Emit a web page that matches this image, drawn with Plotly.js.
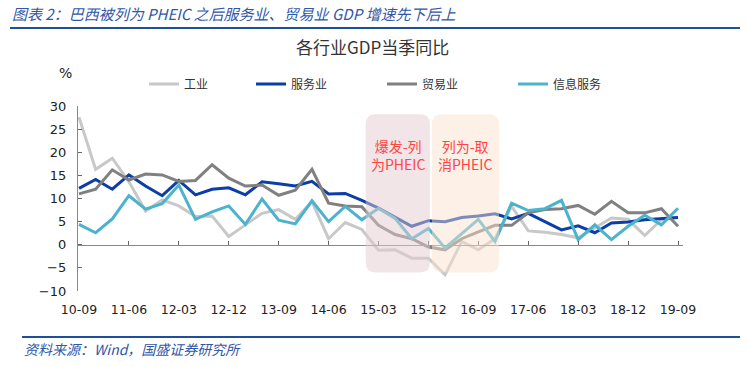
<!DOCTYPE html>
<html>
<head>
<meta charset="utf-8">
<script src="https://cdn.plot.ly/plotly-3.0.1.min.js"></script>
<style>html,body{margin:0;padding:0;background:#fff;}#chart{width:747px;height:367px;}</style>
</head>
<body>
<div id="chart"></div>
<script>
const categories = ["10-09","10-12","11-03","11-06","11-09","11-12","12-03","12-06","12-09","12-12","13-03","13-06","13-09","13-12","14-03","14-06","14-09","14-12","15-03","15-06","15-09","15-12","16-03","16-06","16-09","16-12","17-03","17-06","17-09","17-12","18-03","18-06","18-09","18-12","19-03","19-06","19-09"];
const tickLabels = ["10-09","11-06","12-03","12-12","13-09","14-06","15-03","15-12","16-09","17-06","18-03","18-12","19-09"];
const seriesNames = ["工业","服务业","贸易业","信息服务"];
const industry = [27.6,16.3,18.7,13.6,7.3,9.7,8.4,6.1,6.2,1.8,4.3,6.8,7.6,5.5,9.3,1.3,4.8,3.3,-1.2,-1.1,-2.9,-2.9,-6.5,0.7,-1.1,1.3,8.3,3.0,2.7,2.2,1.5,3.6,5.8,5.5,2.0,5.4,6.0];
const services = [12.2,14.1,12.0,15.1,12.7,10.6,13.9,10.8,12.0,12.3,10.8,13.6,13.2,12.7,13.7,11.0,11.1,9.6,7.9,6.0,4.0,5.2,5.0,5.9,6.2,6.7,5.6,6.8,5.0,3.2,4.1,2.6,4.7,4.9,5.4,5.7,5.9];
const trade = [11.0,12.0,16.2,14.0,15.3,15.1,13.7,13.9,17.3,14.4,12.7,12.9,10.7,11.8,16.3,9.0,8.4,8.2,4.2,2.2,1.3,-0.5,-1.1,1.3,2.8,4.2,4.2,6.9,7.6,7.8,8.5,6.6,9.4,6.9,6.9,7.8,4.0];
const infoServ = [4.4,2.6,5.6,10.6,7.7,8.9,12.9,5.5,7.1,8.4,4.4,9.9,5.3,4.5,9.5,5.0,8.3,5.4,7.9,5.7,1.3,3.5,-0.7,2.3,5.5,0.7,9.0,7.4,7.8,9.6,1.1,4.3,1.1,4.0,6.4,4.3,7.9];
const seriesColors = ["#c8c8c8","#0b3ea6","#808080","#4bb3cc"];
const periods = [
  {label:"爆发-列<br>为PHEIC", from:17.23, to:21.09, fill:"rgba(228,204,208,0.5)"},
  {label:"列为-取<br>消PHEIC", from:21.21, to:25.24, fill:"rgba(250,226,204,0.48)"}
];

const L = 78, R = 64, T = 106, B = 76;
const W = 747, H = 367;
const pw = W - L - R, ph = H - T - B;
const px = X => (X - L) / pw;
const py = Y => (H - B - Y) / ph;

const legendIds = ["legend","legend2","legend3","legend4"];
const legendX = [144, 251, 382, 513];

const allSeries = [industry, services, trade, infoServ];
const traces = allSeries.map((vals, k) => ({
  type: "scatter", mode: "lines", x: categories, y: vals, name: seriesNames[k], legend: legendIds[k],
  line: {color: seriesColors[k], width: 3}, xaxis: "x", yaxis: "y", hoverinfo: "skip"
}));
traces.push({type:"scatter", mode:"lines", x: categories, y: categories.map(() => 0), xaxis:"x2", yaxis:"y",
  line:{width:0, color:"rgba(0,0,0,0)"}, showlegend:false, hoverinfo:"skip"});

const yTop = 28.2, yBot = -6.0, rx = 0.6, ry = 2.1;
const shapes = periods.map(p => ({
  type: "path", xref: "x", yref: "y", layer: "above", line: {width: 0}, fillcolor: p.fill,
  path: `M ${p.from+rx},${yTop} L ${p.to-rx},${yTop} Q ${p.to},${yTop} ${p.to},${yTop-ry} L ${p.to},${yBot+ry} Q ${p.to},${yBot} ${p.to-rx},${yBot} L ${p.from+rx},${yBot} Q ${p.from},${yBot} ${p.from},${yBot+ry} L ${p.from},${yTop-ry} Q ${p.from},${yTop} ${p.from+rx},${yTop} Z`
}));
shapes.push({type:"line", xref:"paper", yref:"paper", x0:px(10), x1:px(740), y0:py(28), y1:py(28), line:{color:"#1f4e9a", width:2}});
shapes.push({type:"line", xref:"paper", yref:"paper", x0:px(22), x1:px(740), y0:py(337), y1:py(337), line:{color:"#1f4e9a", width:2}});

const annotations = periods.map(p => ({
  xref:"x", yref:"y", x:(p.from+p.to)/2, y:19.4, text:p.label, showarrow:false,
  font:{family:"Noto Sans CJK SC", size:14, color:"#ff4545"}, align:"center"
}));
annotations.push({xref:"paper", yref:"paper", x:px(10), y:py(13), xanchor:"left", yanchor:"middle", showarrow:false,
  text:"<i>图表 2：巴西被列为 PHEIC 之后服务业、贸易业 GDP 增速先下后上</i>", font:{family:"Noto Sans CJK SC", size:15, color:"#2f57a8"}});
annotations.push({xref:"paper", yref:"paper", x:px(372), y:py(47), xanchor:"center", yanchor:"middle", showarrow:false,
  text:"各行业GDP当季同比", font:{family:"Noto Sans CJK SC", size:17, color:"#333"}});
annotations.push({xref:"paper", yref:"paper", x:px(65), y:py(73), xanchor:"center", yanchor:"middle", showarrow:false,
  text:"%", font:{family:"DejaVu Sans", size:14, color:"#222"}});
annotations.push({xref:"paper", yref:"paper", x:px(22), y:py(349), xanchor:"left", yanchor:"middle", showarrow:false,
  text:"<i>资料来源：Wind，国盛证券研究所</i>", font:{family:"Noto Sans CJK SC", size:14, color:"#2f57a8"}});

const layout = {
  width: W, height: H, margin: {l: L, r: R, t: T, b: B, pad: 0},
  paper_bgcolor: "#fff", plot_bgcolor: "#fff", showlegend: true,
  xaxis: {type: "category", categoryorder: "array", categoryarray: categories, range: [-0.06, 36.3],
    tickmode: "array", tickvals: tickLabels, ticktext: tickLabels, ticks: "", showline: false, showgrid: false, zeroline: false,
    tickfont: {family: "DejaVu Sans", size: 12.5, color: "#222"}, ticklabelstandoff: 9},
  xaxis2: {type: "category", categoryorder: "array", categoryarray: categories, range: [-0.06, 36.3], overlaying: "x",
    anchor: "free", position: 0.25, side: "bottom", tickmode: "array", tickvals: tickLabels, ticks: "inside", ticklen: 4,
    tickcolor: "#666", showline: true, linecolor: "#888", linewidth: 1.2, showticklabels: false, showgrid: false, zeroline: false},
  yaxis: {range: [-10, 30], tickvals: [-10,-5,0,5,10,15,20,25,30], ticks: "inside", ticklen: 4, tickcolor: "#666",
    showline: true, linecolor: "#888", linewidth: 1.2, showgrid: false, zeroline: false,
    tickfont: {family: "DejaVu Sans", size: 13, color: "#222"}, ticklabelstandoff: 8},
  shapes: shapes, annotations: annotations
};
legendIds.forEach((id, k) => {
  layout[id] = {orientation: "h", x: px(legendX[k]), y: py(84), xanchor: "left", yanchor: "middle",
    font: {family: "Noto Sans CJK SC", size: 12, color: "#333"}, itemwidth: 30, bgcolor: "rgba(0,0,0,0)"};
});
Plotly.newPlot("chart", traces, layout, {staticPlot: true, displayModeBar: false});
</script>
</body>
</html>
